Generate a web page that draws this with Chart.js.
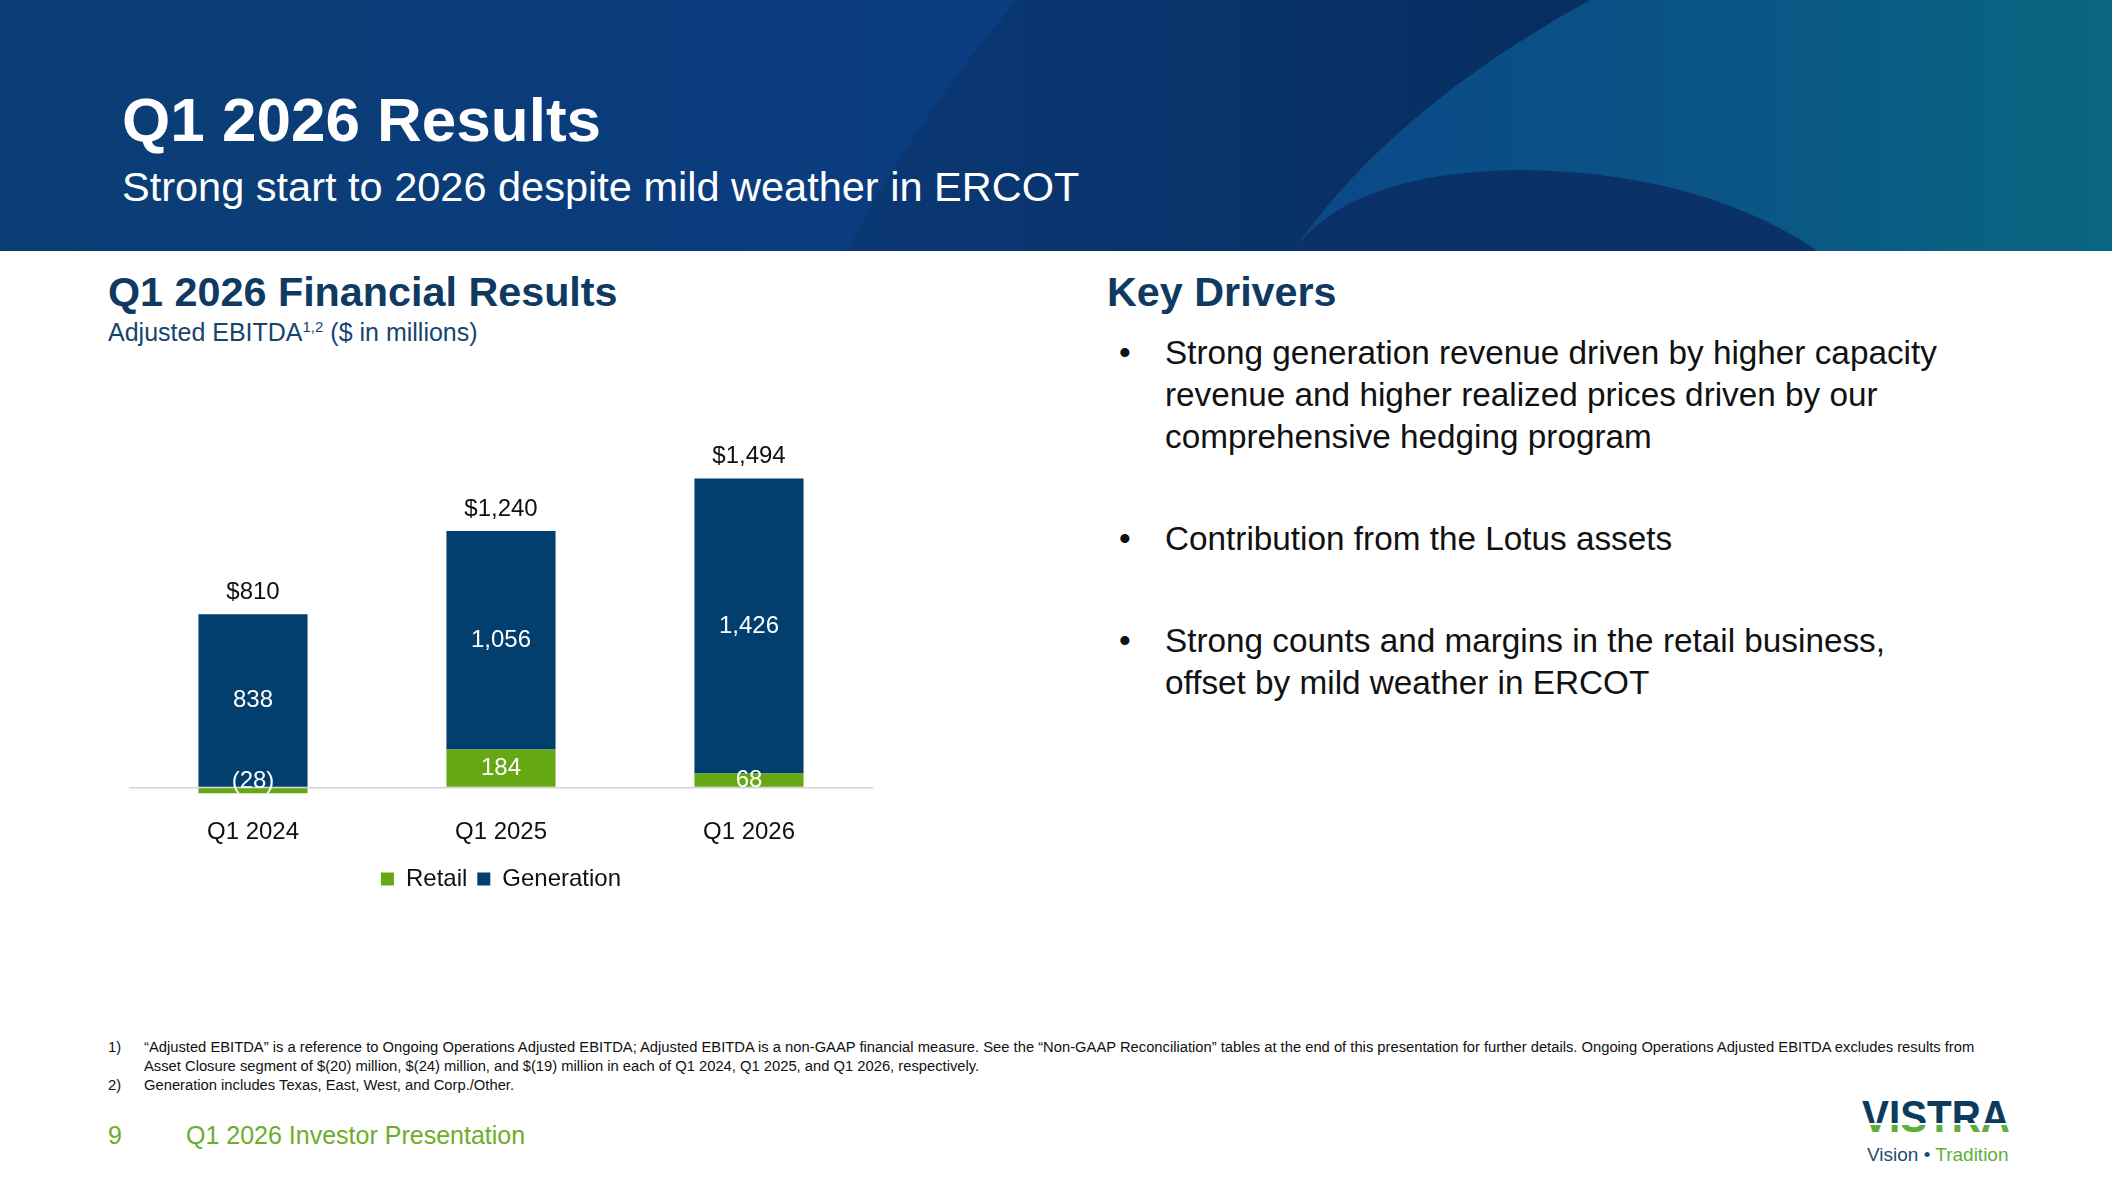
<!DOCTYPE html>
<html>
<head>
<meta charset="utf-8">
<script src="https://cdn.jsdelivr.net/npm/chart.js@4.4.1/dist/chart.umd.min.js"></script>
<style>
  html, body { margin: 0; padding: 0; }
  body {
    width: 2112px; height: 1188px; position: relative; overflow: hidden;
    background: #fff; font-family: "Liberation Sans", Arial, sans-serif; color: #111;
  }
  .t { position: absolute; white-space: nowrap; line-height: 1; }
  #header { position: absolute; left: 0; top: 0; }
  .bul { position: absolute; left: 1165px; font-size: 33.3px; line-height: 42px; color: #111; white-space: nowrap; }
  .dot { position: absolute; left: -46px; top: 0; }
  .fn { font-size: 14.75px; color: #111; }
  #chartBox { position: absolute; left: 129px; top: 380px; }
</style>
</head>
<body>

<svg id="header" width="2112" height="251" viewBox="0 0 2112 251">
  <defs>
    <linearGradient id="bg" x1="0" x2="1" y1="0" y2="0">
      <stop offset="0" stop-color="#0b3d74"/>
      <stop offset="0.5" stop-color="#0a3c82"/>
      <stop offset="1" stop-color="#0a3c82"/>
    </linearGradient>
    <linearGradient id="dark" x1="0" x2="1" y1="0" y2="0">
      <stop offset="0" stop-color="#0a3875"/>
      <stop offset="0.6" stop-color="#082d5f"/>
      <stop offset="1" stop-color="#082d5c"/>
    </linearGradient>
    <linearGradient id="light" x1="0" x2="1" y1="0" y2="0">
      <stop offset="0" stop-color="#0b4888"/>
      <stop offset="0.5" stop-color="#0a5486"/>
      <stop offset="1" stop-color="#0a6680"/>
    </linearGradient>
  </defs>
  <rect width="2112" height="251" fill="url(#bg)"/>
  <path d="M1017 0 Q 915 120 846 251 L 2112 251 L 2112 0 Z" fill="url(#dark)"/>
  <path d="M1590 0 Q 1390 110 1293 251 L 2112 251 L 2112 0 Z" fill="url(#light)"/>
  <path d="M1293 251 Q 1350 172 1520 170 Q 1700 172 1818 251 Z" fill="#0a3268"/>
</svg>

<div class="t" style="left:122px; top:89px; font-size:62px; font-weight:bold; color:#fff;">Q1 2026 Results</div>
<div class="t" style="left:122px; top:166px; font-size:41.5px; color:#fff;">Strong start to 2026 despite mild weather in ERCOT</div>

<div class="t" style="left:108px; top:272px; font-size:41.3px; font-weight:bold; color:#0f3a62;">Q1 2026 Financial Results</div>
<div class="t" style="left:108px; top:320px; font-size:25px; color:#15456f;">Adjusted EBITDA<sup style="font-size:15px; vertical-align:9px; line-height:0;">1,2</sup> ($ in millions)</div>

<div class="t" style="left:1107px; top:272px; font-size:41.3px; font-weight:bold; color:#0f3a62;">Key Drivers</div>

<div class="bul" style="top:332px;"><span class="dot">•</span>Strong generation revenue driven by higher capacity<br>revenue and higher realized prices driven by our<br>comprehensive hedging program</div>
<div class="bul" style="top:518px;"><span class="dot">•</span>Contribution from the Lotus assets</div>
<div class="bul" style="top:620px;"><span class="dot">•</span>Strong counts and margins in the retail business,<br>offset by mild weather in ERCOT</div>

<div id="chartBox"><canvas id="myChart" width="744" height="521"></canvas></div>

<div class="t fn" style="left:108px; top:1040px;">1)</div>
<div class="t fn" style="left:144px; top:1040px;">“Adjusted EBITDA” is a reference to Ongoing Operations Adjusted EBITDA; Adjusted EBITDA is a non-GAAP financial measure. See the “Non-GAAP Reconciliation” tables at the end of this presentation for further details. Ongoing Operations Adjusted EBITDA excludes results from</div>
<div class="t fn" style="left:144px; top:1059px;">Asset Closure segment of $(20) million, $(24) million, and $(19) million in each of Q1 2024, Q1 2025, and Q1 2026, respectively.</div>
<div class="t fn" style="left:108px; top:1078px;">2)</div>
<div class="t fn" style="left:144px; top:1078px;">Generation includes Texas, East, West, and Corp./Other.</div>

<div class="t" style="left:108px; top:1123px; font-size:25px; color:#6cae2a;">9</div>
<div class="t" style="left:186px; top:1123px; font-size:25px; color:#6cae2a;">Q1 2026 Investor Presentation</div>

<svg style="position:absolute; left:1860px; top:1090px;" width="190" height="54" viewBox="0 0 190 54">
  <defs>
    <linearGradient id="logoGrad" gradientUnits="userSpaceOnUse" x1="0" y1="10" x2="0" y2="43">
      <stop offset="0" stop-color="#0d3b5e"/>
      <stop offset="0.7" stop-color="#0d3b5e"/>
      <stop offset="0.7" stop-color="#ffffff"/>
      <stop offset="0.76" stop-color="#ffffff"/>
      <stop offset="0.76" stop-color="#5fae3c"/>
      <stop offset="1" stop-color="#5fae3c"/>
    </linearGradient>
  </defs>
  <text x="2" y="42" font-family="Liberation Sans, Arial, sans-serif" font-weight="bold" font-size="45"
        textLength="148" lengthAdjust="spacingAndGlyphs" fill="url(#logoGrad)">VISTRA</text>
</svg>
<div class="t" style="left:1867px; top:1145px; font-size:19px;"><span style="color:#1e4b74;">Vision • </span><span style="color:#5fae3c;">Tradition</span></div>

<script>
const quarters = ['Q1 2024', 'Q1 2025', 'Q1 2026'];
const retail = [-28, 184, 68];
const generation = [838, 1056, 1426];

const RETAIL_GREEN = '#66a814';
const GEN_NAVY = '#023f6e';
const FONT = '"Liberation Sans", Arial, sans-serif';

Chart.defaults.font.family = FONT;
Chart.defaults.color = '#111';

function fmt(v) {
    const s = Math.abs(v).toLocaleString('en-US');
    return v < 0 ? '(' + s + ')' : s;
}

// value labels inside the bars and totals above them
const barLabels = {
    id: 'barLabels',
    afterDatasetsDraw(chart) {
        const ctx = chart.ctx;
        const zero = chart.scales.y.getPixelForValue(0);
        ctx.save();
        ctx.font = '24px ' + FONT;
        ctx.textAlign = 'center';
        ctx.textBaseline = 'middle';
        chart.data.datasets.forEach((ds, di) => {
            chart.getDatasetMeta(di).data.forEach((bar, i) => {
                let y = (bar.y + bar.base) / 2;
                if (di === 0) y = Math.min(y, zero - 6);
                ctx.fillStyle = '#fff';
                ctx.fillText(fmt(ds.data[i]), bar.x, y);
            });
        });
        quarters.forEach((q, i) => {
            const bar = chart.getDatasetMeta(1).data[i];
            const total = retail[i] + generation[i];
            ctx.fillStyle = '#111';
            ctx.fillText('$' + total.toLocaleString('en-US'), bar.x, bar.y - 22);
        });
        ctx.restore();
    }
};

const config = {
    type: 'bar',
    data: {
        labels: quarters,
        datasets: [
            {
                label: 'Retail',
                data: retail,
                backgroundColor: RETAIL_GREEN,
                categoryPercentage: 1,
                barPercentage: 0.44
            },
            {
                label: 'Generation',
                data: generation,
                backgroundColor: GEN_NAVY,
                categoryPercentage: 1,
                barPercentage: 0.44
            }
        ]
    },
    options: {
        responsive: false,
        animation: false,
        layout: { padding: { top: 76.6, left: 0, right: 0, bottom: 0 } },
        scales: {
            x: {
                stacked: true,
                grid: { display: false, drawTicks: false },
                border: { display: false },
                ticks: { font: { size: 24 }, color: '#111', padding: 10 }
            },
            y: {
                stacked: true,
                min: -100,
                max: 1600,
                afterFit: (scale) => { scale.width = 0; },
                ticks: { display: false, stepSize: 100 },
                border: { display: false },
                grid: {
                    drawTicks: false,
                    lineWidth: 1.5,
                    color: (c) => (c.tick && c.tick.value === 0 ? '#d4d4d4' : 'transparent')
                }
            }
        },
        plugins: {
            legend: {
                position: 'bottom',
                labels: {
                    boxWidth: 13,
                    boxHeight: 13,
                    padding: 10,
                    color: '#111',
                    font: { size: 24 }
                }
            },
            tooltip: { enabled: false }
        }
    },
    plugins: [barLabels]
};

const ctx = document.getElementById('myChart').getContext('2d');
const myChart = new Chart(ctx, config);
</script>
</body>
</html>
